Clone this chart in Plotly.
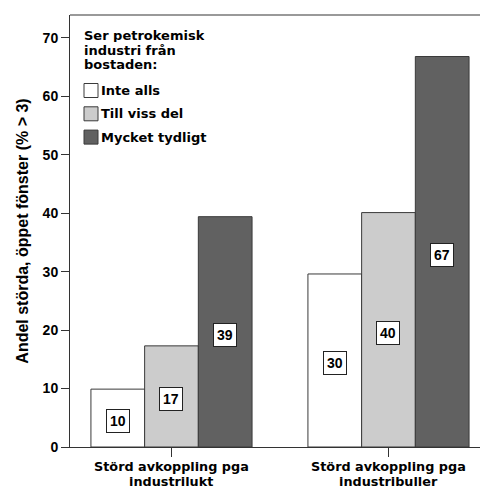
import plotly.graph_objects as go

categories = ["Störd avkoppling pga<br>industrilukt", "Störd avkoppling pga<br>industribuller"]
series_names = ["Inte alls", "Till viss del", "Mycket tydligt"]
values_inte = [9.9, 29.6]
values_viss = [17.3, 40.1]
values_tydl = [39.4, 66.8]
colors = ["#ffffff", "#cccccc", "#616161"]
y_ticks = [0, 10, 20, 30, 40, 50, 60, 70]
legend_title = ["Ser petrokemisk", "industri från", "bostaden:"]
y_title = "Andel störda, öppet fönster (% > 3)"

series = [values_inte, values_viss, values_tydl]
ARIAL = "Liberation Sans, Arial, sans-serif"
VERD = "DejaVu Sans, Verdana, sans-serif"

W, H = 480, 488
L, R, T, B = 70, 480, 15, 447


def px(x):
    return (x - L) / (R - L)


def py(y):
    return (B - y) / (B - T)


fig = go.Figure()
for name, vals, col in zip(series_names, series, colors):
    fig.add_trace(go.Bar(
        x=list(range(len(categories))), y=vals, name=name,
        marker=dict(color=col, line=dict(color="#3a3a3a", width=1)),
        showlegend=False,
    ))

bargap = 0.2575
bw = (1 - bargap) / 3
annotations = []
shapes = []
for si, vals in enumerate(series):
    for ci, v in enumerate(vals):
        annotations.append(dict(
            x=ci + (si - 1) * bw, y=v / 2, xref="x", yref="y",
            text="%d" % round(v), showarrow=False, yshift=-3,
            bgcolor="white", bordercolor="#222222", borderwidth=1, borderpad=3,
            font=dict(family=ARIAL, size=14, color="black", weight="bold"),
        ))

# category labels (two lines each)
for ci, cat in enumerate(categories):
    lines = cat.split("<br>")
    for li, line in enumerate(lines):
        annotations.append(dict(
            x=ci, y=0, xref="x", yref="paper", text=line, showarrow=False,
            yanchor="middle", xanchor="center", yshift=-19.5 - 14.5 * li,
            font=dict(family=VERD, size=12.8, color="black", weight="bold"),
        ))

# legend (title + items)
for li, line in enumerate(legend_title):
    annotations.append(dict(
        x=px(82), y=py(35 + 14.5 * li), xref="paper", yref="paper", text=line,
        showarrow=False, xanchor="left", yanchor="middle", height=14,
        font=dict(family=VERD, size=13, color="black", weight="bold"),
    ))
for i, (name, col) in enumerate(zip(series_names, colors)):
    yc = 90.5 + 23.3 * i
    shapes.append(dict(type="rect", xref="paper", yref="paper",
                       x0=px(84), x1=px(98), y0=py(yc - 7), y1=py(yc + 7),
                       fillcolor=col, line=dict(color="#3a3a3a", width=1)))
    annotations.append(dict(
        x=px(99), y=py(yc), xref="paper", yref="paper", text=name,
        showarrow=False, xanchor="left", yanchor="middle",
        font=dict(family=VERD, size=13, color="black", weight="bold"),
    ))

shapes.append(dict(type="line", xref="paper", yref="paper", x0=0, x1=1, y0=1, y1=1,
                   line=dict(color="#777777", width=1.5)))

fig.update_layout(
    width=W, height=H,
    margin=dict(l=L, r=W - R, t=T, b=H - B),
    paper_bgcolor="white", plot_bgcolor="white",
    font=dict(family=ARIAL, size=14, color="black", weight="bold"),
    barmode="group", bargap=bargap, bargroupgap=0,
    showlegend=False,
    annotations=annotations,
    shapes=shapes,
)
fig.update_xaxes(
    tickmode="array", tickvals=list(range(len(categories))), ticktext=["", ""],
    range=[-0.4677, 1.4217], showline=True, linecolor="#333333", linewidth=1,
    ticks="outside", ticklen=9, tickcolor="#333333", showgrid=False, zeroline=False,
)
fig.update_yaxes(
    range=[0, 73.9], tickvals=y_ticks, showline=True, linecolor="#333333", linewidth=1,
    ticks="outside", ticklen=8, tickcolor="#333333", showgrid=False, zeroline=False,
    title=dict(text=y_title, font=dict(size=16, family=ARIAL, weight="bold"), standoff=10),
    tickfont=dict(size=14, family=ARIAL, weight="bold"),
)
fig.write_html("out.html", post_script="document.body.style.margin='0';",
               config={"displayModeBar": False})
